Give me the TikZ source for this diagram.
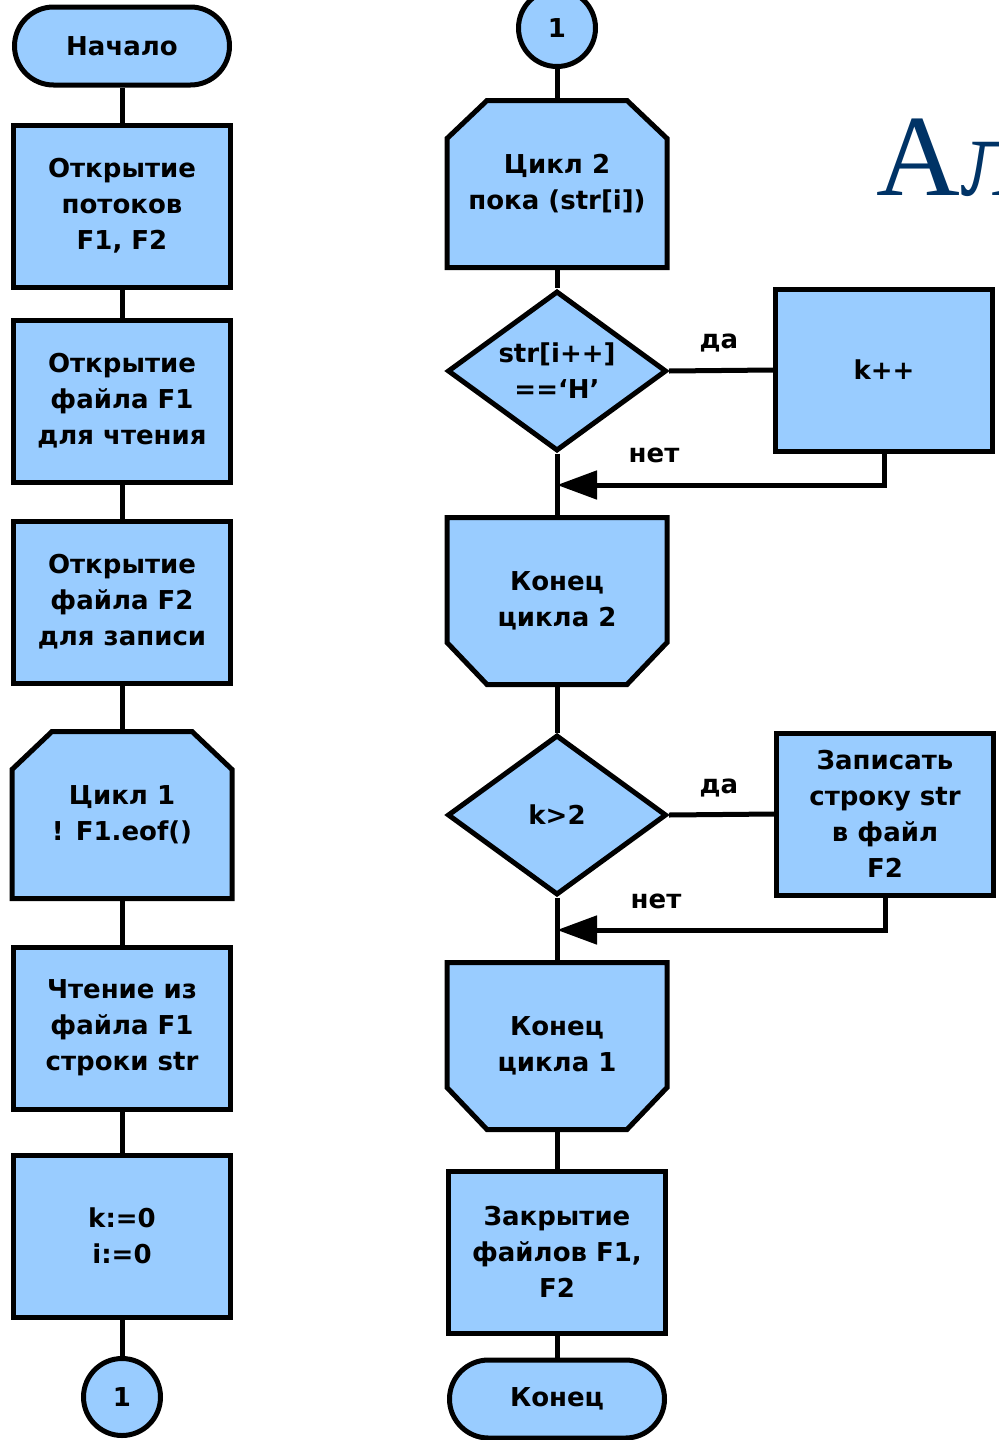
\documentclass[tikz,border=0pt]{standalone}
\usepackage{fontspec}
\setmainfont{DejaVu Sans}
\newfontfamily\titlefont{Liberation Serif}
\usetikzlibrary{shapes.geometric,arrows.meta,backgrounds,calc}
\definecolor{boxblue}{RGB}{153,204,255}
\definecolor{titleblue}{RGB}{0,51,102}
\tikzset{
  base/.style={line width=2.5pt, font=\bfseries\fontsize{13}{18}\selectfont, align=center, inner sep=0pt},
  proc/.style={base, draw, fill=boxblue, minimum width=108.5pt, minimum height=81pt},
  term/.style={base, draw, fill=boxblue, minimum width=107.5pt, minimum height=39pt, rounded corners=19.5pt},
  conn/.style={base, draw, fill=boxblue, circle, minimum size=38.5pt},
  dec/.style={base, draw, fill=boxblue, diamond, aspect=1.35, minimum width=109.5pt, minimum height=80pt},
  loopbox/.style={base, minimum width=107.5pt, minimum height=81pt},
  lbl/.style={font=\bfseries\fontsize{13}{14}\selectfont, inner sep=0pt},
  flow/.style={line width=2.5pt},
  arr/.style={flow, -{Triangle[length=20pt,width=14pt]}},
  shapeline/.style={line width=2.5pt, fill=boxblue, draw=black}
}
\newcommand\topcut[1]{%
  \filldraw[shapeline] ($(#1.north west)+(20pt,0)$) -- ($(#1.north east)+(-20pt,0)$) -- ($(#1.north east)+(0,-19pt)$) -- (#1.south east) -- (#1.south west) -- ($(#1.north west)+(0,-19pt)$) -- cycle;}
\newcommand\botcut[1]{%
  \filldraw[shapeline] (#1.north west) -- (#1.north east) -- ($(#1.south east)+(0,21pt)$) -- ($(#1.south east)+(-20pt,0)$) -- ($(#1.south west)+(20pt,0)$) -- ($(#1.south west)+(0,21pt)$) -- cycle;}
\begin{document}
\begin{tikzpicture}[x=0.5pt,y=-0.5pt]
\useasboundingbox (0,0) rectangle (998,1440);
% left column
\node[term] (start) at (122,46) {Начало};
\node[proc] (b1) at (122,206) {Открытие\\потоков\\F1, F2};
\node[proc] (b2) at (122,401) {Открытие\\файла F1\\для чтения};
\node[proc] (b3) at (122,602) {Открытие\\файла F2\\для записи};
\node[loopbox] (c1) at (122,815) {Цикл 1\\! F1.eof()};
\node[proc] (rd) at (122,1028) {Чтение из\\файла F1\\строки str};
\node[proc] (init) at (122,1236) {k:=0\\i:=0};
\node[conn] (p1) at (122,1397) {1};
% right column
\node[conn] (p2) at (557,28) {1};
\node[loopbox] (c2) at (557,184) {Цикл 2\\пока (str[i])};
\node[dec] (d1) at (557,371) {str[i++]\\==‘Н’};
\node[proc] (kpp) at (884,370) {k++};
\node[loopbox] (e2) at (557,601) {Конец\\цикла 2};
\node[dec] (d2) at (557,815) {k>2};
\node[proc] (wr) at (885,814) {Записать\\строку str\\в файл\\F2};
\node[loopbox] (e1) at (557,1046) {Конец\\цикла 1};
\node[proc] (cls) at (557,1252) {Закрытие\\файлов F1,\\F2};
\node[term] (stop) at (557,1399) {Конец};
\begin{pgfonlayer}{background}
\topcut{c1}
\topcut{c2}
\botcut{e2}
\botcut{e1}
\end{pgfonlayer}
% title
\node[anchor=base west, font=\titlefont\fontsize{58}{58}\selectfont, text=titleblue, inner sep=0pt] (title) at (876,195) {Ал};
% labels
\node[lbl] (y1) at (719,343) {да};
\node[lbl] (n1) at (654,455) {нет};
\node[lbl] (y2) at (719,788) {да};
\node[lbl] (n2) at (656,901) {нет};
% connectors
\draw[flow] (start) -- (b1);
\draw[flow] (b1) -- (b2);
\draw[flow] (b2) -- (b3);
\draw[flow] (b3) -- (c1.north);
\draw[flow] (c1.south) -- (rd);
\draw[flow] (rd) -- (init);
\draw[flow] (init) -- (p1);
\draw[flow] (p2) -- (c2.north);
\draw[flow] (c2.south) -- (d1);
\draw[flow] (d1) -- (e2.north);
\draw[flow] (e2.south) -- (d2);
\draw[flow] (d2) -- (e1.north);
\draw[flow] (e1.south) -- (cls);
\draw[flow] (cls) -- (stop);
\draw[flow] (d1.east) -- (kpp.west);
\draw[flow] (d2.east) -- (wr.west);
\coordinate (j1) at (557,485);
\coordinate (j2) at (557,930);
\draw[arr] (kpp.south) |- (j1);
\draw[arr] (wr.south) |- (j2);
\end{tikzpicture}
\end{document}
